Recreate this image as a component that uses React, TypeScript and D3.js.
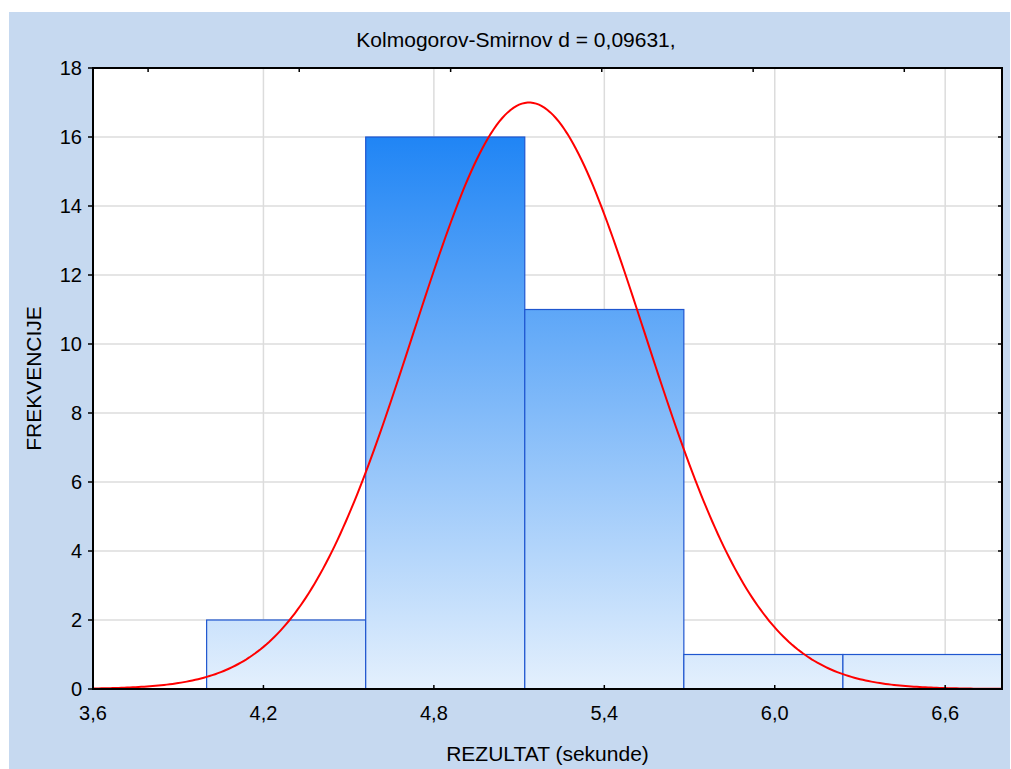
import * as d3 from "d3";
import { useEffect, useRef } from "react";

// histogram bins (seconds) and counts
const binEdges = [4.0, 4.56, 5.12, 5.68, 6.24, 6.8];
const counts = [2, 16, 11, 1, 1];

const xTicks = [3.6, 4.2, 4.8, 5.4, 6.0, 6.6];
const topTicks = [3.794, 4.326, 4.859, 5.391, 5.924, 6.456];
const yTicks = [0, 2, 4, 6, 8, 10, 12, 14, 16, 18];

// fitted normal curve parameters
const fitMean = 5.135;
const fitSd = 0.4074;
const nObs = 31;

const title = "Kolmogorov-Smirnov d = 0,09631,";
const xTitle = "REZULTAT (sekunde)";
const yTitle = "FREKVENCIJE";

const W = 1011;
const H = 769;

export default function App() {
  const ref = useRef<SVGSVGElement>(null);

  useEffect(() => {
    if (!ref.current) return;
    const svg = d3.select(ref.current);
    svg.selectAll("*").remove();

    const m = { left: 93, right: 1002, top: 68, bottom: 689 };
    const font = "'Liberation Sans', Arial, sans-serif";

    const x = d3.scaleLinear().domain([3.6, 6.8]).range([m.left, m.right]);
    const y = d3.scaleLinear().domain([0, 18]).range([m.bottom, m.top]);

    // background panel
    svg.append("rect").attr("width", W).attr("height", H).attr("fill", "#ffffff");
    svg
      .append("rect")
      .attr("x", 9)
      .attr("y", 12)
      .attr("width", 1001)
      .attr("height", H - 12)
      .attr("fill", "#c6d9f0");

    svg
      .append("rect")
      .attr("x", m.left)
      .attr("y", m.top)
      .attr("width", m.right - m.left)
      .attr("height", m.bottom - m.top)
      .attr("fill", "#ffffff");

    const defs = svg.append("defs");
    const grad = defs
      .append("linearGradient")
      .attr("id", "barGrad")
      .attr("gradientUnits", "userSpaceOnUse")
      .attr("x1", 0)
      .attr("x2", 0)
      .attr("y1", y(0))
      .attr("y2", y(16));
    grad.append("stop").attr("offset", 0).attr("stop-color", "#e4f0fd");
    grad.append("stop").attr("offset", 1).attr("stop-color", "#2085f5");

    defs
      .append("clipPath")
      .attr("id", "plotClip")
      .append("rect")
      .attr("x", m.left)
      .attr("y", m.top)
      .attr("width", m.right - m.left)
      .attr("height", m.bottom - m.top);

    // grid
    const grid = svg.append("g").attr("stroke", "#dcdcdc").attr("stroke-width", 1.5);
    yTicks
      .filter((t) => t > 0 && t < 18)
      .forEach((t) => {
        grid
          .append("line")
          .attr("x1", m.left)
          .attr("x2", m.right)
          .attr("y1", y(t))
          .attr("y2", y(t));
      });
    xTicks
      .filter((t) => t > 3.6)
      .forEach((t) => {
        grid
          .append("line")
          .attr("x1", x(t))
          .attr("x2", x(t))
          .attr("y1", m.top)
          .attr("y2", m.bottom);
      });

    // bars
    const bins = counts.map((c, i) => ({ x0: binEdges[i], x1: binEdges[i + 1], c }));
    svg
      .append("g")
      .selectAll("rect")
      .data(bins)
      .enter()
      .append("rect")
      .attr("x", (d) => x(d.x0))
      .attr("y", (d) => y(d.c))
      .attr("width", (d) => x(d.x1) - x(d.x0))
      .attr("height", (d) => y(0) - y(d.c))
      .attr("fill", "url(#barGrad)")
      .attr("stroke", "#1f56cf")
      .attr("stroke-width", 1.2);

    // normal curve
    const bw = binEdges[1] - binEdges[0];
    const pdf = (v: number) =>
      ((nObs * bw) / (fitSd * Math.sqrt(2 * Math.PI))) *
      Math.exp(-0.5 * ((v - fitMean) / fitSd) ** 2);
    const xs = d3.range(3.6, 6.8001, 0.01);
    const line = d3
      .line<number>()
      .x((v) => x(v))
      .y((v) => y(pdf(v)))
      .curve(d3.curveLinear);
    svg
      .append("path")
      .attr("clip-path", "url(#plotClip)")
      .attr("d", line(xs))
      .attr("fill", "none")
      .attr("stroke", "#ff0000")
      .attr("stroke-width", 2);

    // frame
    svg
      .append("rect")
      .attr("x", m.left)
      .attr("y", m.top)
      .attr("width", m.right - m.left)
      .attr("height", m.bottom - m.top)
      .attr("fill", "none")
      .attr("stroke", "#000")
      .attr("stroke-width", 2);

    const ticks = svg.append("g").attr("stroke", "#000").attr("stroke-width", 1.5);
    xTicks.forEach((t) => {
      ticks
        .append("line")
        .attr("x1", x(t))
        .attr("x2", x(t))
        .attr("y1", m.bottom)
        .attr("y2", m.bottom - 4);
    });
    topTicks.forEach((t) => {
      ticks
        .append("line")
        .attr("x1", x(t))
        .attr("x2", x(t))
        .attr("y1", m.top)
        .attr("y2", m.top + 4);
    });
    yTicks.forEach((t) => {
      ticks
        .append("line")
        .attr("x1", m.left)
        .attr("x2", m.left - 5)
        .attr("y1", y(t))
        .attr("y2", y(t));
      ticks
        .append("line")
        .attr("x1", m.right)
        .attr("x2", m.right - 4)
        .attr("y1", y(t))
        .attr("y2", y(t));
    });

    const fmt = (v: number) => d3.format(".1f")(v).replace(".", ",");

    // tick labels
    svg
      .append("g")
      .selectAll("text")
      .data(yTicks)
      .enter()
      .append("text")
      .attr("x", 82)
      .attr("y", (d) => y(d))
      .attr("dy", "0.36em")
      .attr("text-anchor", "end")
      .attr("font-family", font)
      .attr("font-size", 20)
      .text((d) => String(d));

    svg
      .append("g")
      .selectAll("text")
      .data(xTicks)
      .enter()
      .append("text")
      .attr("x", (d) => x(d))
      .attr("y", 720)
      .attr("text-anchor", "middle")
      .attr("font-family", font)
      .attr("font-size", 20)
      .text((d) => fmt(d));

    // titles
    svg
      .append("text")
      .attr("x", 516)
      .attr("y", 47)
      .attr("text-anchor", "middle")
      .attr("font-family", font)
      .attr("font-size", 21)
      .text(title);

    svg
      .append("text")
      .attr("x", (m.left + m.right) / 2)
      .attr("y", 761)
      .attr("text-anchor", "middle")
      .attr("font-family", font)
      .attr("font-size", 21)
      .text(xTitle);

    svg
      .append("text")
      .attr("transform", `translate(41,${(m.top + m.bottom) / 2}) rotate(-90)`)
      .attr("text-anchor", "middle")
      .attr("font-family", font)
      .attr("font-size", 21)
      .text(yTitle);
  }, []);

  return (
    <svg
      ref={ref}
      width={W}
      height={H}
      style={{ position: "absolute", left: 0, top: 0, display: "block" }}
    ></svg>
  );
}
